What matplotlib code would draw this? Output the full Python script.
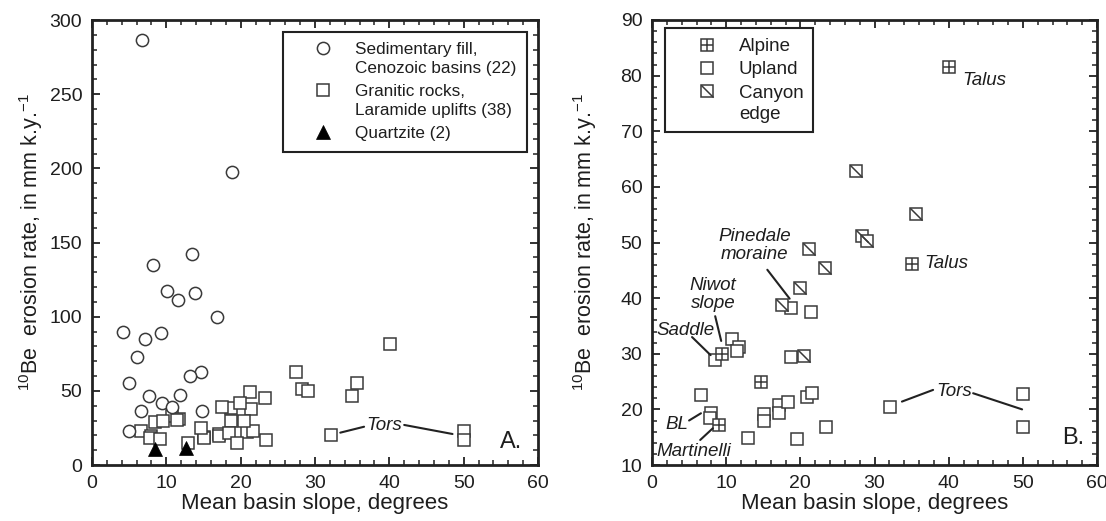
import matplotlib
matplotlib.use('Agg')
import matplotlib.pyplot as plt
from matplotlib.path import Path
from matplotlib.ticker import MultipleLocator
from matplotlib.legend_handler import HandlerTuple

plt.rcParams['font.family'] = ['Liberation Sans', 'DejaVu Sans']
plt.rcParams['mathtext.fontset'] = 'custom'
plt.rcParams['mathtext.rm'] = 'Liberation Sans'
plt.rcParams['mathtext.it'] = 'Liberation Sans:italic'

# ---------------- data ----------------
# Panel A: sedimentary fill, Cenozoic basins
sed_slope = [6.7, 18.9, 13.4, 8.2, 10.1, 13.8, 11.6, 16.8, 4.2, 9.3, 7.1,
             6.1, 14.7, 13.2, 5.0, 7.7, 11.9, 9.4, 10.8, 6.6, 14.8, 5.0]
sed_rate = [286.5, 197.3, 142.2, 135.0, 117.5, 116.1, 111.0, 100.0, 89.7, 88.8, 85.2,
            73.1, 62.8, 60.1, 55.6, 46.2, 47.3, 41.5, 38.8, 36.5, 36.5, 23.1]
# Quartzite
quartz_slope = [8.5, 12.7]
quartz_rate = [10.5, 11.5]
# Granitic rocks, split by setting (panel B)
alpine_slope = [40.1, 35.0, 14.7, 9.5, 9.1]
alpine_rate = [81.5, 46.2, 25.0, 30.0, 17.2]
canyon_slope = [27.5, 35.6, 28.3, 29.0, 21.2, 23.3, 19.9, 17.5, 20.5]
canyon_rate = [62.8, 55.1, 51.2, 50.2, 48.9, 45.4, 41.8, 38.8, 29.6]
upland_slope = [18.7, 21.4, 10.8, 11.7, 11.5, 8.5, 18.7, 6.6, 8.0, 7.8, 15.1, 15.1,
                17.1, 17.1, 18.4, 20.9, 21.6, 12.9, 19.5, 23.4, 32.1, 50.0, 50.0]
upland_rate = [38.3, 37.5, 32.7, 31.2, 30.5, 28.9, 29.4, 22.6, 19.4, 18.4, 19.2, 18.0,
               20.8, 19.3, 21.4, 22.2, 23.0, 14.8, 14.6, 16.9, 20.4, 22.7, 16.8]
gran_slope = upland_slope + canyon_slope + alpine_slope
gran_rate = upland_rate + canyon_rate + alpine_rate

xticks = [0, 10, 20, 30, 40, 50, 60]
yticks_a = [0, 50, 100, 150, 200, 250, 300]
yticks_b = [10, 20, 30, 40, 50, 60, 70, 80, 90]

# ---------------- style ----------------
EC = '#3a3a3a'
MS = 8.8
MEW = 1.1
TXT = '#1e1e1e'
diag = Path([(-1, 1), (1, -1)], [Path.MOVETO, Path.LINETO])

fig = plt.figure(figsize=(11.06, 5.21), dpi=100)
axA = fig.add_axes([92 / 1106, 1 - 465 / 521, 446 / 1106, 445 / 521])
axB = fig.add_axes([652 / 1106, 1 - 465 / 521, 445 / 1106, 445 / 521])

ylab = r'$^{10}$Be  erosion rate, in mm k.y.$^{-1}$'


def style_axes(ax, yt, ymin_loc):
    ax.set_xlim(0, 60)
    ax.set_xticks(xticks)
    ax.set_yticks(yt)
    ax.set_ylim(yt[0], yt[-1])
    ax.xaxis.set_minor_locator(MultipleLocator(2))
    ax.yaxis.set_minor_locator(MultipleLocator(ymin_loc))
    ax.tick_params(which='both', direction='in', top=True, right=True,
                   colors='#222222', labelcolor=TXT)
    ax.tick_params(which='major', length=6, width=1.3, labelsize=14, pad=7)
    ax.tick_params(which='minor', length=3.3, width=1.1)
    for s in ax.spines.values():
        s.set_linewidth(2.0)
        s.set_color('#222222')
    ax.set_xlabel('Mean basin slope, degrees', fontsize=16, color=TXT, labelpad=1)
    ax.set_ylabel(ylab, fontsize=15.5, color=TXT)


def tune_legend(leg, ls):
    for col in leg._legend_handle_box.get_children():
        for hp in col.get_children():
            hp.align = 'top'
    for t in leg.get_texts():
        t.set_linespacing(ls)
    fr = leg.get_frame()
    fr.set_edgecolor('#222222')
    fr.set_linewidth(1.5)
    fr.set_boxstyle('square', pad=0)


# ---------------- panel A ----------------
style_axes(axA, yticks_a, 10)
hs, = axA.plot(gran_slope, gran_rate, ls='none', marker='s', ms=MS, mfc='white',
               mec=EC, mew=MEW, label='Granitic rocks,\nLaramide uplifts (38)', zorder=3)
hc, = axA.plot(sed_slope, sed_rate, ls='none', marker='o', ms=MS, mfc='white',
               mec=EC, mew=MEW, label='Sedimentary fill,\nCenozoic basins (22)', zorder=3)
hq, = axA.plot(quartz_slope, quartz_rate, ls='none', marker='^', ms=9.5, mfc='black',
               mec='black', mew=0.5, label='Quartzite (2)', zorder=4)
legA = axA.legend([hc, hs, hq], [hc.get_label(), hs.get_label(), hq.get_label()],
                  loc='upper right', bbox_to_anchor=(0.975, 0.974), borderaxespad=0,
                  fontsize=12.3, handlelength=3.46, handletextpad=0.14, borderpad=0.62,
                  labelspacing=0.45, fancybox=False, framealpha=1, labelcolor=TXT)
tune_legend(legA, 1.35)

lk = dict(arrowstyle='-', lw=1.5, color='#222222', shrinkA=0, shrinkB=0)
axA.annotate('', xy=(36.6, 25.8), xytext=(33.4, 21.8), arrowprops=lk)
axA.annotate('', xy=(48.5, 20.9), xytext=(42.0, 27.0), arrowprops=lk)
axA.text(39.3, 26.3, 'Tors', fontsize=13.5, style='italic', ha='center', va='center', color=TXT)
axA.text(56.4, 15.7, 'A.', fontsize=17, ha='center', va='center', color=TXT)
axA.yaxis.set_label_coords(-0.105, 0.5)

# ---------------- panel B ----------------
style_axes(axB, yticks_b, 2)
common = dict(ls='none', ms=MS, mfc='white', mec=EC, mew=MEW, zorder=3)
bu, = axB.plot(upland_slope, upland_rate, marker='s', **common)
bc1, = axB.plot(canyon_slope, canyon_rate, marker='s', **common)
bc2, = axB.plot(canyon_slope, canyon_rate, ls='none', marker=diag, ms=MS, mec=EC,
                mew=MEW, zorder=3)
ba1, = axB.plot(alpine_slope, alpine_rate, marker='s', **common)
ba2, = axB.plot(alpine_slope, alpine_rate, ls='none', marker='+', ms=MS, mec=EC,
                mew=MEW, zorder=3)
legB = axB.legend([(ba1, ba2), bu, (bc1, bc2)], ['Alpine', 'Upland', 'Canyon\nedge'],
                  handler_map={tuple: HandlerTuple(ndivide=1)},
                  loc='upper left', bbox_to_anchor=(0.030, 0.981), borderaxespad=0,
                  fontsize=13.5, handlelength=3.37, handletextpad=0.03, borderpad=0.52,
                  labelspacing=0.33, fancybox=False, framealpha=1, labelcolor=TXT)
tune_legend(legB, 1.32)

tk = dict(fontsize=13.5, style='italic', color=TXT)
axB.text(41.9, 79.1, 'Talus', ha='left', va='center', **tk)
axB.text(36.75, 46.2, 'Talus', ha='left', va='center', **tk)
axB.text(13.85, 49.5, 'Pinedale\nmoraine', ha='center', va='center', linespacing=1.1, **tk)
axB.text(8.2, 40.65, 'Niwot\nslope', ha='center', va='center', linespacing=1.1, **tk)
axB.text(4.47, 34.2, 'Saddle', ha='center', va='center', **tk)
axB.text(3.3, 17.2, 'BL', ha='center', va='center', **tk)
axB.text(5.6, 12.4, 'Martinelli', ha='center', va='center', **tk)
axB.text(40.8, 23.3, 'Tors', ha='center', va='center', **tk)
axB.text(56.8, 14.8, 'B.', fontsize=17, ha='center', va='center', color=TXT)
axB.annotate('', xy=(18.56, 39.9), xytext=(15.55, 45.1), arrowprops=lk)
axB.annotate('', xy=(9.33, 32.3), xytext=(8.52, 36.75), arrowprops=lk)
axB.annotate('', xy=(7.9, 29.75), xytext=(5.4, 33.0), arrowprops=lk)
axB.annotate('', xy=(6.6, 19.3), xytext=(5.0, 18.0), arrowprops=lk)
axB.annotate('', xy=(8.2, 16.6), xytext=(6.5, 14.5), arrowprops=lk)
axB.annotate('', xy=(37.9, 23.5), xytext=(33.7, 21.4), arrowprops=lk)
axB.annotate('', xy=(49.9, 20.0), xytext=(43.3, 22.9), arrowprops=lk)
axB.yaxis.set_label_coords(-0.118, 0.5)

fig.savefig('out.png', dpi=100, facecolor='white')
